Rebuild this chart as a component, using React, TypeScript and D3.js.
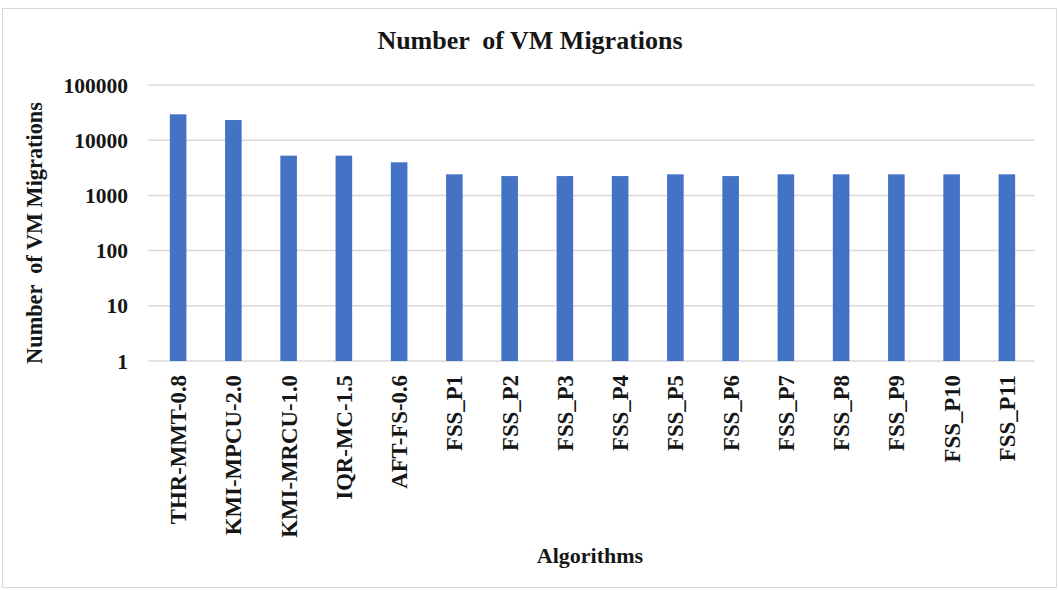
import React, { useEffect, useRef } from 'react';
import * as d3 from 'd3';

const algorithms = [
  'THR-MMT-0.8', 'KMI-MPCU-2.0', 'KMI-MRCU-1.0', 'IQR-MC-1.5', 'AFT-FS-0.6',
  'FSS_P1', 'FSS_P2', 'FSS_P3', 'FSS_P4', 'FSS_P5', 'FSS_P6',
  'FSS_P7', 'FSS_P8', 'FSS_P9', 'FSS_P10', 'FSS_P11',
];
const migrations = [
  29400, 23200, 5250, 5250, 3980,
  2410, 2240, 2240, 2240, 2410, 2240,
  2410, 2410, 2410, 2410, 2410,
];
const yTicks = [1, 10, 100, 1000, 10000, 100000];

const App: React.FC = () => {
  const svgRef = useRef<SVGSVGElement>(null);

  useEffect(() => {
    if (!svgRef.current) return;
    const svg = d3.select(svgRef.current);
    svg.selectAll('*').remove();

    const W = 1059, H = 590;
    const margin = { top: 85, right: 24.5, bottom: 229, left: 150.5 };
    const font = '"Liberation Serif", "Times New Roman", serif';

    // chart frame
    svg.append('rect')
      .attr('x', 2.5).attr('y', 8.5)
      .attr('width', W - 5).attr('height', H - 11)
      .attr('fill', '#fff')
      .attr('stroke', '#d9d9d9');

    const x = d3.scaleBand()
      .domain(algorithms)
      .range([margin.left, W - margin.right])
      .paddingInner(0.7)
      .paddingOuter(0.35);

    const y = d3.scaleLog()
      .domain([1, 100000])
      .range([H - margin.bottom, margin.top]);

    // gridlines
    svg.append('g')
      .selectAll('line')
      .data(yTicks)
      .enter()
      .append('line')
      .attr('x1', margin.left - 2)
      .attr('x2', W - margin.right)
      .attr('y1', d => y(d))
      .attr('y2', d => y(d))
      .attr('stroke', '#d9d9d9')
      .attr('stroke-width', 1.5);

    // y tick labels
    svg.append('g')
      .selectAll('text')
      .data(yTicks)
      .enter()
      .append('text')
      .attr('x', 128)
      .attr('y', d => y(d))
      .attr('dy', '0.35em')
      .attr('text-anchor', 'end')
      .attr('font-family', font)
      .attr('font-size', '21.5px')
      .attr('font-weight', 'bold')
      .attr('fill', '#161616')
      .text(d => d.toString());

    // bars
    svg.append('g')
      .selectAll('rect')
      .data(algorithms)
      .enter()
      .append('rect')
      .attr('x', d => x(d)!)
      .attr('width', x.bandwidth())
      .attr('y', (d, i) => y(migrations[i]))
      .attr('height', (d, i) => y(1) - y(migrations[i]))
      .attr('fill', '#4472C4');

    // x labels, rotated
    svg.append('g')
      .selectAll('text')
      .data(algorithms)
      .enter()
      .append('text')
      .attr('transform', d => `translate(${x(d)! + x.bandwidth() / 2},${y(1) + 14}) rotate(-90)`)
      .attr('dy', '0.35em')
      .attr('text-anchor', 'end')
      .attr('font-family', font)
      .attr('font-size', '22.8px')
      .attr('font-weight', 'bold')
      .attr('fill', '#161616')
      .text(d => d);

    // title
    svg.append('text')
      .attr('x', 530)
      .attr('y', 49)
      .attr('text-anchor', 'middle')
      .attr('font-family', font)
      .attr('font-size', '26px')
      .attr('font-weight', 'bold')
      .attr('fill', '#161616')
      .style('white-space', 'pre')
      .text('Number  of VM Migrations');

    // y axis title
    svg.append('text')
      .attr('transform', 'translate(42,233) rotate(-90)')
      .attr('text-anchor', 'middle')
      .attr('font-family', font)
      .attr('font-size', '22.3px')
      .attr('font-weight', 'bold')
      .attr('fill', '#161616')
      .style('white-space', 'pre')
      .text('Number  of VM Migrations');

    // x axis title
    svg.append('text')
      .attr('x', 590)
      .attr('y', 563)
      .attr('text-anchor', 'middle')
      .attr('font-family', font)
      .attr('font-size', '22px')
      .attr('font-weight', 'bold')
      .attr('fill', '#161616')
      .text('Algorithms');
  }, []);

  return (
    <div style={{ position: 'absolute', left: 0, top: 0 }}>
      <svg ref={svgRef} width={1059} height={590} style={{ display: 'block' }} />
    </div>
  );
};

export default App;
